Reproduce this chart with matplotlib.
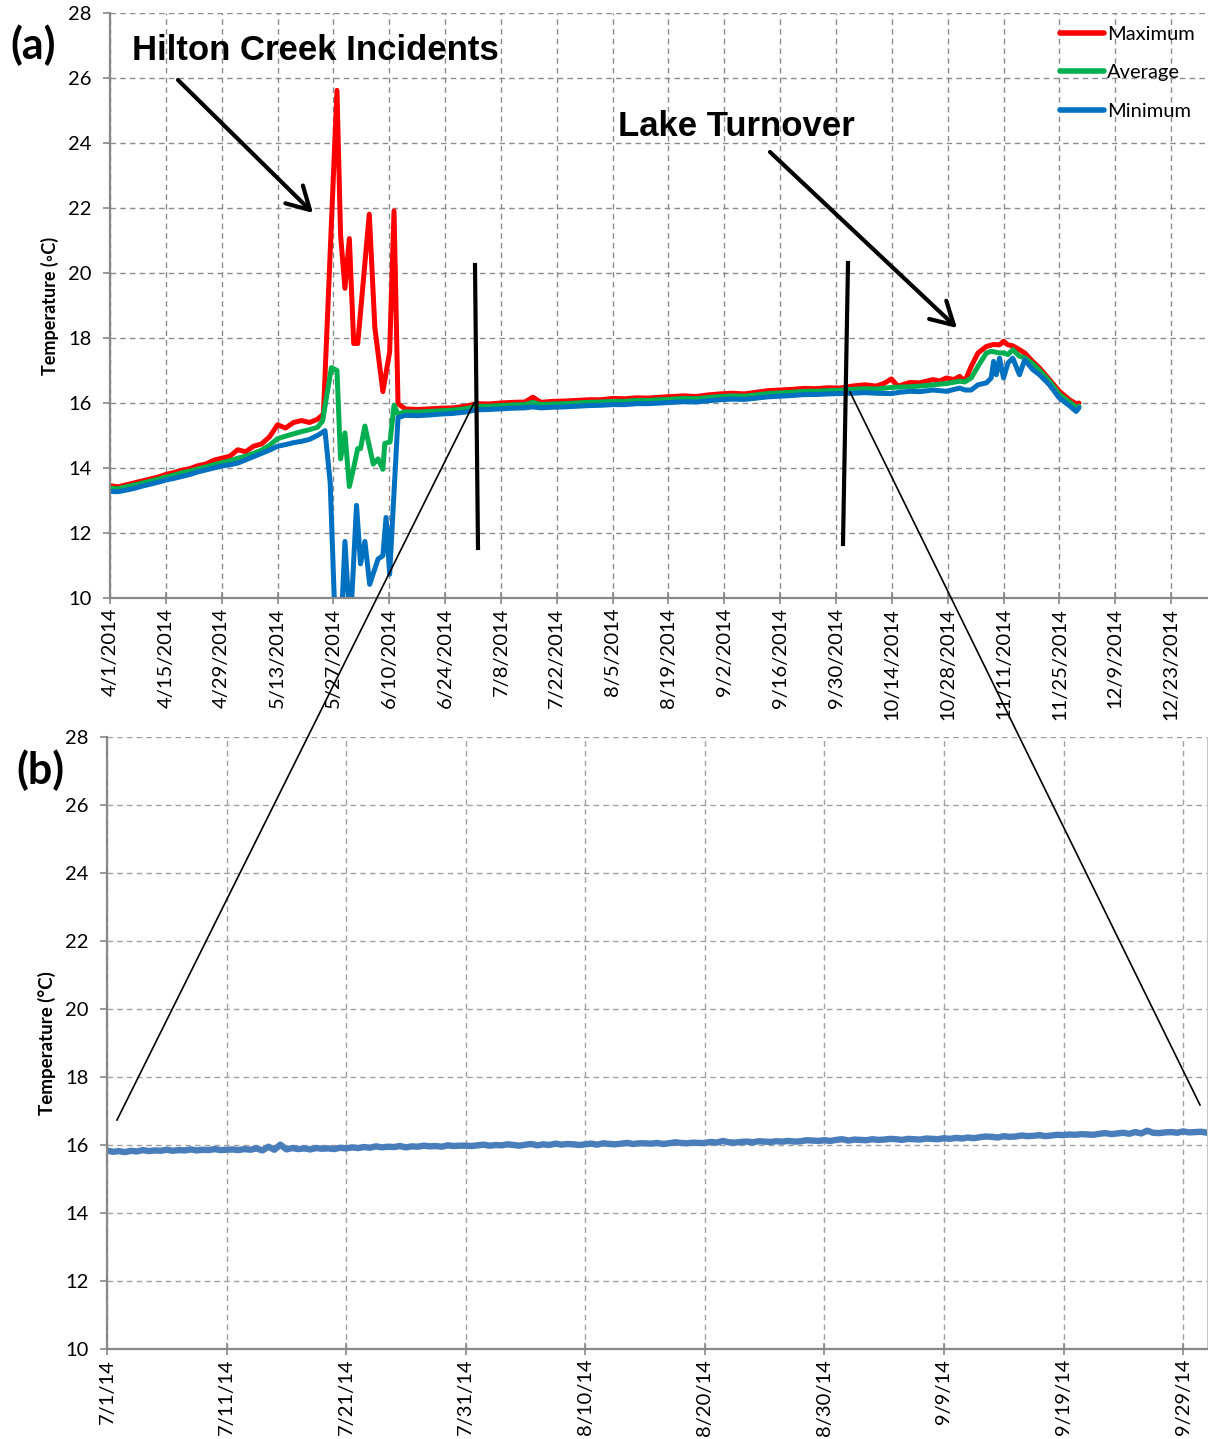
import matplotlib
matplotlib.use("Agg")
import matplotlib.pyplot as plt
import matplotlib.dates as mdates
from matplotlib.lines import Line2D
from matplotlib.patches import FancyArrowPatch
from matplotlib.ticker import FuncFormatter
import pandas as pd

# ---------------- data ----------------
START_A = "2014-04-01"

# daily maximum temperature (days after 4/1/2014, degC)
max_days = [0, 2, 4, 6, 8, 10, 12, 14, 16, 18, 20, 22, 24, 26, 28, 30, 32, 34, 36, 38,
            40, 42, 44, 46, 48, 50, 52,
            53.5, 56.9, 57.8, 58.9, 60.0, 61.1, 62.1, 65.0, 66.4, 68.4, 70.1, 71.2, 72.2,
            74, 77, 80, 83, 86, 89, 92, 95, 98, 101, 104, 106, 108, 111, 114, 117, 120,
            123, 126, 129, 132, 135, 138, 141, 144, 147, 150, 153, 156, 159, 162, 165,
            168, 171, 174, 177, 180, 183,
            186, 189.2, 192, 194, 195.9, 197.5, 200.5, 203, 206.3, 208, 209.7, 211.5,
            213.0, 214.3, 215.9, 217.6, 219.7, 221.5, 223.0, 224.0, 225.1, 226.3, 228.0,
            229.3, 231.3, 233.0, 235.5, 238.0, 240.5, 242.2, 242.9]
max_vals = [13.46, 13.42, 13.48, 13.54, 13.60, 13.66, 13.72, 13.80, 13.86, 13.93, 13.98,
            14.07, 14.12, 14.24, 14.30, 14.36, 14.56, 14.50, 14.67, 14.74, 14.96, 15.33,
            15.23, 15.40, 15.46, 15.40, 15.50,
            15.66, 25.62, 21.17, 19.53, 21.06, 17.83, 17.83, 21.81, 18.31, 16.35, 17.57,
            21.91, 15.98,
            15.82, 15.80, 15.82, 15.84, 15.85, 15.90, 15.98, 15.97, 16.00, 16.02, 16.03,
            16.18, 16.02, 16.05, 16.06, 16.08, 16.10, 16.10, 16.14, 16.13, 16.16, 16.15,
            16.18, 16.20, 16.22, 16.20, 16.25, 16.28, 16.30, 16.28, 16.33, 16.38, 16.40,
            16.42, 16.45, 16.44, 16.47, 16.46,
            16.52, 16.56, 16.52, 16.60, 16.74, 16.52, 16.63, 16.62, 16.72, 16.68, 16.77,
            16.72, 16.82, 16.67, 17.13, 17.54, 17.74, 17.80, 17.79, 17.90, 17.79, 17.76,
            17.64, 17.54, 17.28, 17.08, 16.72, 16.36, 16.10, 15.98, 16.00]

# daily average temperature
avg_days = [0, 2, 4, 6, 8, 10, 12, 14, 16, 18, 20, 22, 24, 26, 28, 30, 32, 34, 36, 38,
            40, 42, 44, 46, 48, 50, 52,
            53.3, 55.5, 56.9, 57.8, 58.9, 60.0, 61.2, 62.1, 62.8, 63.9, 66.0, 67.2, 68.4,
            68.9, 70.2, 71.2, 72.2,
            74, 77, 80, 83, 86, 89, 92, 95, 98, 101, 104, 106, 108, 111, 114, 117, 120,
            123, 126, 129, 132, 135, 138, 141, 144, 147, 150, 153, 156, 159, 162, 165,
            168, 171, 174, 177, 180, 183,
            186, 189.2, 192, 195.9, 200.5, 203, 206.3, 209.7, 213.0, 214.3, 215.9, 217.6,
            219.7, 220.9, 223.0, 224.0, 225.1, 226.3, 228.0, 229.3, 231.3, 233.0, 235.5,
            238.0, 240.5, 242.2, 242.9]
avg_vals = [13.38, 13.36, 13.42, 13.47, 13.53, 13.59, 13.65, 13.72, 13.78, 13.85, 13.90,
            13.97, 14.03, 14.10, 14.16, 14.22, 14.30, 14.36, 14.45, 14.55, 14.70, 14.90,
            14.98, 15.05, 15.12, 15.18, 15.25,
            15.45, 17.09, 17.00, 14.28, 15.08, 13.43, 14.07, 14.60, 14.60, 15.29, 14.12,
            14.28, 13.96, 14.76, 14.80, 15.93, 15.66,
            15.73, 15.72, 15.74, 15.76, 15.78, 15.82, 15.90, 15.90, 15.92, 15.94, 15.95,
            16.02, 15.95, 15.97, 15.98, 16.00, 16.02, 16.03, 16.05, 16.05, 16.08, 16.08,
            16.10, 16.12, 16.14, 16.13, 16.17, 16.20, 16.22, 16.21, 16.25, 16.29, 16.31,
            16.33, 16.36, 16.36, 16.38, 16.39,
            16.42, 16.44, 16.43, 16.48, 16.50, 16.52, 16.56, 16.60, 16.67, 16.65, 16.77,
            17.13, 17.54, 17.59, 17.54, 17.54, 17.49, 17.64, 17.44, 17.39, 17.21, 17.00,
            16.67, 16.26, 16.03, 15.87, 15.90]

# daily minimum temperature (values below 10 fall off the axis)
min_days = [0, 2, 4, 6, 8, 10, 12, 14, 16, 18, 20, 22, 24, 26, 28, 30, 32, 34, 36, 38,
            40, 42, 44, 46, 48, 50, 52,
            53.9, 55.2, 56.5, 57.9, 58.9, 60.2, 61.8, 62.8, 63.9, 65.1, 67.2, 68.4, 69.2,
            70.1, 72.2,
            74, 77, 80, 83, 86, 89, 92, 95, 98, 101, 104, 106, 108, 111, 114, 117, 120,
            123, 126, 129, 132, 135, 138, 141, 144, 147, 150, 153, 156, 159, 162, 165,
            168, 171, 174, 177, 180, 183,
            186, 189.2, 192, 195.9, 198, 200.5, 203, 206.3, 209.7, 213.0, 214.3, 215.9,
            217.6, 219.7, 220.9, 221.5, 222.2, 223.0, 224.0, 225.1, 226.3, 228.0, 229.3,
            231.3, 233.0, 235.5, 238.0, 240.5, 242.2, 242.9]
min_vals = [13.28, 13.27, 13.32, 13.37, 13.44, 13.50, 13.56, 13.63, 13.68, 13.74, 13.80,
            13.88, 13.94, 14.00, 14.06, 14.10, 14.15, 14.25, 14.35, 14.45, 14.55, 14.67,
            14.72, 14.78, 14.82, 14.88, 15.00,
            15.15, 13.54, 9.00, 9.00, 11.74, 9.00, 12.85, 11.05, 11.74, 10.42, 11.20,
            11.30, 12.48, 10.73, 15.55,
            15.62, 15.61, 15.63, 15.66, 15.68, 15.72, 15.79, 15.80, 15.82, 15.84, 15.85,
            15.88, 15.85, 15.87, 15.88, 15.90, 15.92, 15.93, 15.95, 15.95, 15.98, 15.98,
            16.00, 16.02, 16.04, 16.03, 16.07, 16.10, 16.12, 16.11, 16.15, 16.19, 16.21,
            16.23, 16.26, 16.26, 16.28, 16.29,
            16.30, 16.32, 16.30, 16.29, 16.33, 16.36, 16.35, 16.40, 16.36, 16.46, 16.40,
            16.40, 16.56, 16.62, 16.77, 17.28, 16.87, 17.38, 16.77, 17.23, 17.38, 16.87,
            17.33, 17.03, 16.87, 16.56, 16.15, 15.92, 15.74, 15.85]

# 7/1/2014 - 9/30/2014, two readings per day (00:00 and 12:00)
START_B = "2014-07-01"
zoom_vals = [
    15.84, 15.80, 15.82, 15.79, 15.83, 15.81, 15.85, 15.82, 15.84, 15.83,
    15.86, 15.83, 15.85, 15.84, 15.87, 15.84, 15.86, 15.85, 15.88, 15.85,
    15.86, 15.87, 15.85, 15.88, 15.86, 15.90, 15.84, 15.95, 15.86, 16.01,
    15.87, 15.91, 15.88, 15.90, 15.87, 15.91, 15.89, 15.90, 15.88, 15.92,
    15.90, 15.93, 15.91, 15.94, 15.92, 15.96, 15.93, 15.95, 15.94, 15.97,
    15.93, 15.96, 15.95, 15.98, 15.96, 15.97, 15.95, 15.99, 15.97, 15.98,
    15.98, 15.97, 15.99, 16.01, 15.98, 16.00, 15.99, 16.02, 16.00, 15.98,
    16.01, 16.03, 15.99, 16.02, 16.00, 16.04, 16.01, 16.03, 16.02, 16.00,
    16.02, 16.04, 16.01, 16.05, 16.03, 16.02, 16.04, 16.06, 16.03, 16.05,
    16.05, 16.04, 16.06, 16.03, 16.05, 16.08, 16.06, 16.05, 16.07, 16.06,
    16.06, 16.09, 16.07, 16.12, 16.08, 16.07, 16.09, 16.10, 16.08, 16.11,
    16.10, 16.09, 16.11, 16.10, 16.12, 16.10, 16.11, 16.14, 16.13, 16.12,
    16.14, 16.12, 16.15, 16.17, 16.13, 16.16, 16.15, 16.14, 16.17, 16.15,
    16.16, 16.18, 16.17, 16.15, 16.18, 16.17, 16.16, 16.19, 16.18, 16.17,
    16.20, 16.18, 16.21, 16.19, 16.22, 16.20, 16.23, 16.25, 16.24, 16.22,
    16.26, 16.24, 16.25, 16.28, 16.26, 16.27, 16.29, 16.26, 16.28, 16.30,
    16.29, 16.31, 16.30, 16.32, 16.31, 16.30, 16.33, 16.35, 16.32, 16.34,
    16.36, 16.33, 16.38, 16.34, 16.42, 16.36, 16.35, 16.37, 16.38, 16.36,
    16.40, 16.37, 16.38, 16.39, 16.36,
]

series_labels = ["Maximum", "Average", "Minimum"]
series_colors = ["#ff0000", "#00b050", "#0070c0"]

top_ticks = pd.date_range("2014-04-01", "2014-12-23", freq="14D")
bot_ticks = pd.date_range("2014-07-01", "2014-09-29", freq="10D")
y_ticks = list(range(10, 29, 2))

# ---------------- figure ----------------
W, H = 1208, 1439
plt.rcParams["font.family"] = ["Lato", "DejaVu Sans"]
fig = plt.figure(figsize=(W / 100, H / 100), dpi=100)


def fxy(x, y):
    """pixel position (from top-left) -> figure fraction"""
    return x / W, 1 - y / H


def to_dates(start, days):
    return pd.Timestamp(start) + pd.to_timedelta(days, unit="D")


def style_axes(ax):
    for s in ("top", "right"):
        ax.spines[s].set_visible(False)
    for s in ("left", "bottom"):
        ax.spines[s].set_color("#888888")
        ax.spines[s].set_linewidth(1.6)
    ax.grid(True, color="#8c8c8c", linestyle=(0, (4, 3)), linewidth=1.0)
    ax.set_axisbelow(True)
    ax.tick_params(axis="both", colors="#888888", labelcolor="black",
                   labelsize=14.5, width=1.2)
    ax.tick_params(axis="x", direction="inout", length=8, pad=3)
    ax.tick_params(axis="y", direction="out", length=5, pad=8)
    ax.set_ylim(10, 28)
    ax.set_yticks(y_ticks)
    for lab in ax.get_xticklabels():
        lab.set_rotation(90)


# ---- panel (a) ----
ax1 = fig.add_axes([110 / W, 1 - 598 / H, 1097 / W, 585 / H])
for days, vals, lab, col in zip([max_days, avg_days, min_days],
                                [max_vals, avg_vals, min_vals],
                                series_labels, series_colors):
    ax1.plot(to_dates(START_A, days), vals, color=col, lw=3.6, label=lab,
             solid_joinstyle="round", solid_capstyle="round")
ax1.set_xlim(pd.Timestamp("2014-04-01"), pd.Timestamp("2015-01-01"))
ax1.set_xticks(top_ticks)
ax1.xaxis.set_major_formatter(FuncFormatter(
    lambda v, p: (lambda d: f"{d.month}/{d.day}/{d.year}")(mdates.num2date(v))))
style_axes(ax1)
ax1.set_ylabel("Temperature (\u25e6C)", fontsize=13, fontweight="bold", labelpad=7,
               family=["Lato", "DejaVu Sans"])

leg = ax1.legend(loc="upper left", bbox_to_anchor=fxy(1060, 26),
                 bbox_transform=fig.transFigure, frameon=False, fontsize=14.5,
                 handlelength=2.2, handletextpad=0.15, labelspacing=1.05,
                 borderpad=0, borderaxespad=0)
for h in leg.get_lines():
    h.set_linewidth(4.0)

# ---- panel (b) ----
ax2 = fig.add_axes([107 / W, 1 - 1349 / H, 1100 / W, 612 / H])
zoom_t = pd.date_range(START_B, periods=len(zoom_vals), freq="12h")
ax2.plot(zoom_t, zoom_vals, color="#4a7ebb", lw=4.6, solid_joinstyle="round")
ax2.set_xlim(pd.Timestamp("2014-07-01"), pd.Timestamp("2014-10-01"))
ax2.set_xticks(bot_ticks)
ax2.xaxis.set_major_formatter(FuncFormatter(
    lambda v, p: (lambda d: f"{d.month}/{d.day}/{d.year % 100}")(mdates.num2date(v))))
style_axes(ax2)
ax2.grid(True, color="#a0a0a0", linestyle=(0, (4, 3)), linewidth=1.0)
ax2.spines["right"].set_visible(True)
ax2.spines["right"].set_color("#c8c8c8")
ax2.set_ylabel("Temperature (\u00b0C)", fontsize=13.5, fontweight="bold", labelpad=7)

# ---- panel letters and annotations ----
fig.text(*fxy(33, 45), "(a)", fontsize=31, fontweight="bold", ha="center", va="center")
fig.text(*fxy(40, 770), "(b)", fontsize=31, fontweight="bold", ha="center", va="center")
fig.text(*fxy(315, 50), "Hilton Creek Incidents", fontsize=25, fontweight="bold",
         family=["Liberation Sans"], ha="center", va="center")
fig.text(*fxy(736, 127), "Lake Turnover", fontsize=25, fontweight="bold",
         family=["Liberation Sans"], ha="center", va="center")

arrow_kw = dict(arrowstyle="->,head_length=0.8,head_width=0.45", lw=3.0,
                color="black", mutation_scale=20, shrinkA=0, shrinkB=0)
fig.add_artist(FancyArrowPatch(fxy(178, 80), fxy(313, 213),
                               transform=fig.transFigure, **arrow_kw))
fig.add_artist(FancyArrowPatch(fxy(770, 152), fxy(957, 328),
                               transform=fig.transFigure, **arrow_kw))

# zoom window markers and connectors
for (x0, y0), (x1, y1), lw in [((475, 265), (478, 548), 3.0),
                               ((848, 263), (843, 544), 3.0),
                               ((474, 403), (117, 1120), 1.2),
                               ((850, 392), (1200, 1105), 1.2)]:
    a, b = fxy(x0, y0)
    c, d = fxy(x1, y1)
    fig.add_artist(Line2D([a, c], [b, d], transform=fig.transFigure,
                          color="black", lw=lw))

fig.savefig("out.png", dpi=100)
